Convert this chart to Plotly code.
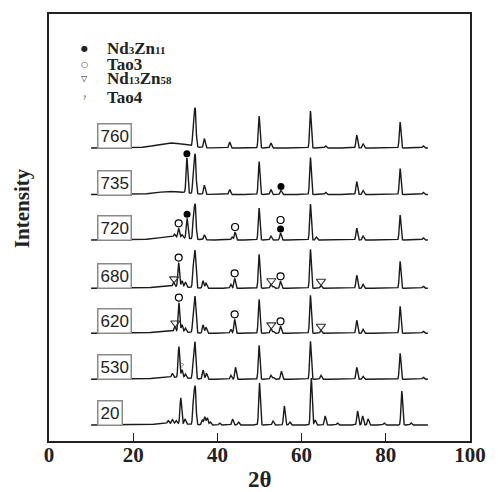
import numpy as np
import plotly.graph_objects as go

# ---------------- data ----------------
labels = ["760", "735", "720", "680", "620", "530", "20"]
offsets = [293, 246.5, 201, 152.7, 107.7, 61.7, 16]          # vertical stacking offsets (a.u.)
hump_amp = [5, 3, 3, 2, 2, 2, 1.5]                            # amorphous background hump

pos_760 = [34.35, 34.75, 36.9, 42.9, 49.9, 52.7, 62.1, 65.7, 73.1, 74.6, 83.4, 88.9]
int_760 = [28, 35, 9, 6, 32, 5, 37, 2, 13, 4, 26, 2]

pos_735 = [32.75, 34.35, 34.75, 36.9, 42.9, 49.9, 52.7, 55.1, 62.1, 65.7, 73.1, 74.6, 83.4, 88.9]
int_735 = [35, 28, 36, 9, 5, 33, 5, 4, 37, 2, 13, 4, 26, 2]

pos_720 = [29.8, 30.8, 31.6, 32.8, 34.35, 34.75, 36.9, 43.5, 44.2, 49.9, 52.7, 55.0, 62.1, 63.5,
           73.1, 74.6, 83.4, 88.9]
int_720 = [3, 9, 3, 20, 25, 32, 5, 3, 8, 32, 4, 7, 36, 3, 12, 4, 25, 2]

pos_680 = [29.6, 30.8, 31.6, 32.4, 34.3, 34.7, 36.6, 37.3, 43.2, 44.1, 49.9, 52.7, 53.3, 55.0,
           62.1, 64.6, 73.1, 74.6, 83.4, 88.9]
int_680 = [4, 24, 6, 5, 20, 35, 7, 5, 4, 10, 34, 4, 2, 7, 39, 3, 13, 4, 27, 2]

pos_620 = [29.9, 30.85, 31.6, 32.4, 34.3, 34.7, 36.6, 37.3, 43.2, 44.1, 49.9, 52.7, 53.3, 55.0,
           62.1, 64.6, 73.1, 74.6, 83.4, 88.9]
int_620 = [5, 29, 7, 4, 20, 34, 8, 6, 4, 14, 34, 5, 2, 7, 38, 3, 13, 4, 27, 2]

pos_530 = [29.3, 30.85, 31.6, 32.4, 34.3, 34.7, 36.6, 37.4, 43.2, 44.3, 49.9, 52.7, 53.3, 55.2,
           62.1, 64.6, 73.1, 74.6, 83.4, 88.9]
int_530 = [4, 31, 8, 4, 22, 34, 9, 6, 4, 12, 34, 4, 2, 8, 38, 4, 12, 3, 26, 2]

pos_20 = [28.3, 29.3, 30.2, 31.3, 32.3, 34.35, 34.75, 36.4, 37.0, 37.6, 38.3, 40.5, 43.6, 45.0,
          50.0, 53.2, 55.9, 57.2, 62.3, 63.2, 65.6, 68.5, 73.3, 74.5, 75.8, 79.6, 83.8, 86.0]
int_20 = [3, 4, 3, 26, 5, 28, 35, 5, 8, 7, 3, 2, 6, 3, 42, 4, 19, 3, 47, 5, 9, 2, 14, 9, 6, 2, 34, 2]

peak_pos = [pos_760, pos_735, pos_720, pos_680, pos_620, pos_530, pos_20]
peak_int = [int_760, int_735, int_720, int_680, int_620, int_530, int_20]

# phase identification marks: pattern label -> peak positions
nd3zn11_marks = {"735": [32.75, 55.1], "720": [32.8, 55.0]}
tao3_marks = {"720": [30.8, 44.2, 55.0], "680": [30.8, 44.1, 55.0], "620": [30.85, 44.1, 55.0]}
nd13zn58_marks = {"680": [29.7, 52.8, 64.6], "620": [30.0, 52.8, 64.6]}
tao4_marks = {"530": [31.6]}

x_ticks = [0, 20, 40, 60, 80, 100]

# ---------------- build curves ----------------
tt = np.linspace(10, 90, 4001)
SIG = 0.19


def profile(x, pos, ints, hump):
    x = np.asarray(x, dtype=float)
    y = hump * np.exp(-0.5 * ((x - 29.0) / 3.5) ** 2)
    for p, h in zip(pos, ints):
        y = y + h * np.exp(-0.5 * ((x - p) / SIG) ** 2)
    return y


fig = go.Figure()
LINE = "#1a1a1a"

for i, lab in enumerate(labels):
    y = offsets[i] + profile(tt, peak_pos[i], peak_int[i], hump_amp[i])
    fig.add_trace(go.Scatter(x=tt, y=y, mode="lines", line=dict(color=LINE, width=1.4),
                             showlegend=False, hoverinfo="skip"))


def curve_at(lab, xs):
    i = labels.index(lab)
    return offsets[i] + profile(np.array(xs), peak_pos[i], peak_int[i], hump_amp[i])


# filled circles (Nd3Zn11)
mx, my = [], []
for lab, xs in nd3zn11_marks.items():
    mx += xs
    my += list(curve_at(lab, xs) + 4)
fig.add_trace(go.Scatter(x=mx, y=my, mode="markers",
                         marker=dict(symbol="circle", size=7, color="black"),
                         showlegend=False, hoverinfo="skip"))

# open circles (Tao3)
mx, my = [], []
for lab, xs in tao3_marks.items():
    ys = curve_at(lab, xs) + 5
    for k, xv in enumerate(xs):
        if any(abs(xv - d) < 0.3 for d in nd3zn11_marks.get(lab, [])):
            ys[k] += 8
    mx += xs
    my += list(ys)
fig.add_trace(go.Scatter(x=mx, y=my, mode="markers",
                         marker=dict(symbol="circle-open", size=7, color="black",
                                     line=dict(width=1.2, color="black")),
                         showlegend=False, hoverinfo="skip"))

# open down triangles (Nd13Zn58)
mx, my = [], []
for lab, xs in nd13zn58_marks.items():
    mx += xs
    my += list(curve_at(lab, xs) + 4)
fig.add_trace(go.Scatter(x=mx, y=my, mode="markers",
                         marker=dict(symbol="triangle-down-open", size=8, color="#333",
                                     line=dict(width=1.1, color="#333")),
                         showlegend=False, hoverinfo="skip"))

# Tao4 tiny mark
mx, my = [], []
for lab, xs in tao4_marks.items():
    mx += xs
    my += list(curve_at(lab, xs) + 4)
fig.add_trace(go.Scatter(x=mx, y=my, mode="text", text=["?"] * len(mx),
                         textfont=dict(size=7, color="#555", family="Liberation Sans"),
                         showlegend=False, hoverinfo="skip"))

# sample labels in boxes
for i, lab in enumerate(labels):
    fig.add_annotation(x=11.5, y=offsets[i] + 12, xref="x", yref="y", text=lab,
                       showarrow=False, xanchor="left", yanchor="middle",
                       font=dict(family="Liberation Sans, Arial", size=17, color="#222"),
                       bordercolor="#8a8a8a", borderwidth=1.5, borderpad=2,
                       bgcolor="white")

# ---------------- legend (annotations) ----------------
W, H, L, B = 498, 492, 49, 51
PW, PH = W - L - 26, H - 14 - B


def px(xp):
    return (xp - L) / PW


def py(yp):
    return (H - B - yp) / PH


SUB = "<span style='font-size:11px'>%s</span>"
leg_rows = [("●", "Nd" + SUB % "3" + "Zn" + SUB % "11", 48.5, 8),
            ("○", "Tao3", 63.5, 8),
            ("▽", "Nd" + SUB % "13" + "Zn" + SUB % "58", 78.5, 8),
            ("?", "Tao4", 96.5, 6)]
SERIF = "Liberation Serif, Times New Roman, serif"
for sym, txt, yy, ss in leg_rows:
    fig.add_annotation(x=px(85), y=py(yy), xref="paper", yref="paper", text=sym,
                       showarrow=False, xanchor="center", yanchor="middle", height=12,
                       font=dict(family="DejaVu Sans", size=ss, color="#222"))
    fig.add_annotation(x=px(105), y=py(yy), xref="paper", yref="paper", text="<b>" + txt + "</b>",
                       showarrow=False, xanchor="left", yanchor="middle", height=14,
                       font=dict(family=SERIF, size=17, color="#222"))

# axis titles
fig.add_annotation(x=0.5, y=py(479), xref="paper", yref="paper", text="<b>2θ</b>",
                   showarrow=False, xanchor="center", yanchor="middle", height=20,
                   font=dict(family=SERIF, size=23, color="#222"))
fig.add_annotation(x=px(22), y=py(208), xref="paper", yref="paper", text="<b>Intensity</b>",
                   showarrow=False, xanchor="center", yanchor="middle", textangle=-90,
                   font=dict(family=SERIF, size=21, color="#222"))

fig.update_layout(
    width=W, height=H, margin=dict(l=L, r=26, t=14, b=B),
    paper_bgcolor="white", plot_bgcolor="white", showlegend=False,
    xaxis=dict(range=[0, 100], tickvals=x_ticks, ticktext=["<b>%d</b>" % v for v in x_ticks],
               ticks="inside", ticklen=8, tickwidth=1.3, tickcolor="#222",
               ticklabelstandoff=-6,
               showline=True, mirror=True, linecolor="#222", linewidth=1.5,
               showgrid=False, zeroline=False,
               tickfont=dict(family=SERIF, size=21, color="#222")),
    yaxis=dict(range=[0, 427], showticklabels=False, ticks="", showline=True, mirror=True,
               linecolor="#222", linewidth=1.5, showgrid=False, zeroline=False),
)

fig.write_html("out.html", config={"displayModeBar": False},
               post_script="document.body.style.margin='0';")
